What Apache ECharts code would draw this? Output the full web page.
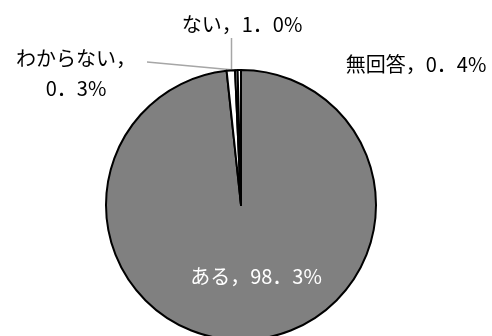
<!DOCTYPE html>
<html>
<head>
<meta charset="utf-8">
<script src="https://cdn.jsdelivr.net/npm/echarts@6/dist/echarts.min.js"></script>
<style>
html,body{margin:0;padding:0;background:#fff;}
#c{width:492px;height:336px;}
</style>
</head>
<body>
<div id="c"></div>
<script>
const categories = ['ある', 'ない', 'わからない', '無回答'];
const values = [98.3, 1.0, 0.3, 0.4];
const sliceColors = ['#808080', '#ffffff', '#ffffff', '#ffffff'];
const labelSpots = [
  {x: 256, y: 276, line: null},
  {x: 242, y: 24, line: [[231.5, 38], [231.5, 70]]},
  {x: 76, y: 73, line: [[147, 62], [234, 70]]},
  {x: 416, y: 64, line: null}
];

function fmt(name, v, idx) {
  const num = v.toFixed(1).replace('.', '．') + '%';
  return idx === 2 ? name + '，\n' + num : name + '，' + num;
}

const chart = echarts.init(document.getElementById('c'), null, {renderer: 'canvas'});
chart.setOption({
  animation: false,
  series: [{
    type: 'pie',
    center: [241, 205],
    radius: 135,
    startAngle: 90,
    clockwise: true,
    avoidLabelOverlap: false,
    data: categories.map((n, i) => ({
      name: n,
      value: values[i],
      itemStyle: {color: sliceColors[i]},
      label: {color: i === 0 ? '#ffffff' : '#000000'},
      labelLine: {show: !!labelSpots[i].line}
    })),
    itemStyle: {borderColor: '#000', borderWidth: 2},
    label: {
      show: true,
      position: 'outside',
      fontFamily: '"Noto Sans CJK JP", sans-serif',
      fontSize: 20,
      lineHeight: 30,
      align: 'center',
      formatter: p => fmt(p.name, p.value, p.dataIndex)
    },
    labelLine: {
      lineStyle: {color: '#a6a6a6', width: 1.5}
    },
    labelLayout: function (p) {
      const s = labelSpots[p.dataIndex];
      const o = {x: s.x, y: s.y, align: 'center', verticalAlign: 'middle'};
      if (s.line) o.labelLinePoints = [s.line[0], s.line[0], s.line[1]];
      return o;
    },
    emphasis: {disabled: true}
  }]
});
</script>
</body>
</html>
